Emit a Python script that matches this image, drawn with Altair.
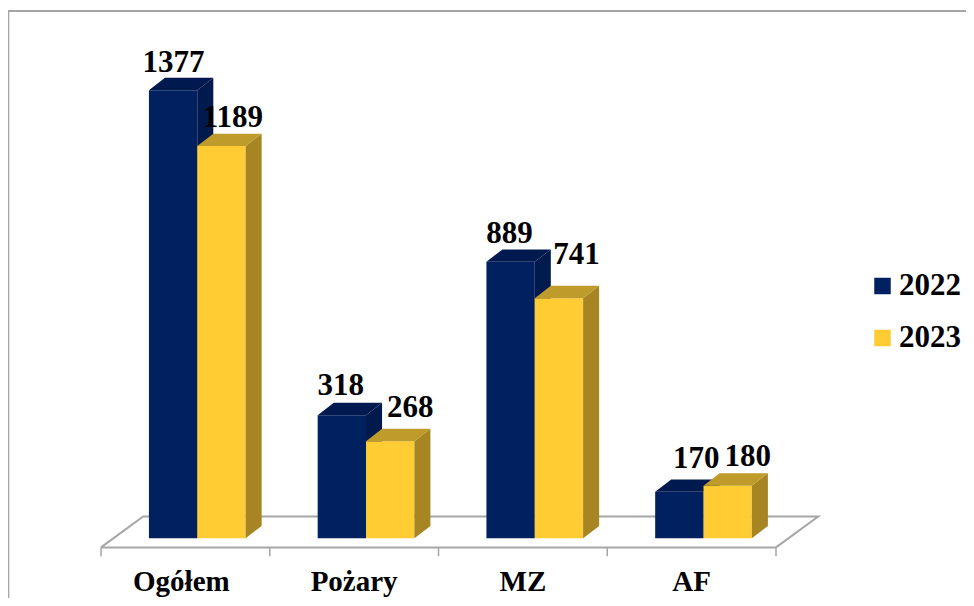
import altair as alt
import pandas as pd

# Data
categories = ["Ogółem", "Pożary", "MZ", "AF"]
series_names = ["2022", "2023"]
printed_2022 = ["1377", "318", "889", "170"]
printed_2023 = ["1189", "268", "741", "180"]
# The drawn bars are not strictly proportional to the printed numbers,
# so their heights are read off separately on the same scale.
drawn_2022 = [1379, 379, 851, 143]
drawn_2023 = [1207, 299, 739, 162]

# Geometry and style (chart units: one category = 1 on x, value units on y)
W, H = 958, 590
PX_X = 168.75      # px per category
PX_Y = 0.325       # px per value unit
X0_PX, Y0_PX = 93.0, 530.3   # position of the floor origin inside the plot
BAR_START = 0.284
BAR_W = 0.2865
DEPTH_X = 0.095
DEPTH_Y = 38
FLOOR_FRONT = -28
FLOOR_BACK = 67
FLOOR_DX = 0.25
TICK_END = -55
CAT_LABEL_Y = -162
FONT = "Liberation Serif"
GREY = "#A6A6A6"
FRONT = {"2022": "#002060", "2023": "#FFCC33"}
SIDE = {"2022": "#001A4D", "2023": "#A68522"}
TOP = {"2022": "#001A50", "2023": "#BF9B2B"}
# per-label nudges (dx, dy in px) from the centre of the bar's top edge
NUDGE = {
    "2022": [(0.5, -18), (-1, -20), (-1, -18.5), (17, -23.5)],
    "2023": [(11.5, -19), (20, -24), (17.5, -34), (20, -20)],
}
CAT_NUDGE = [-4, 0, 0, 0]

x_scale = alt.Scale(domain=[-X0_PX / PX_X, (W - X0_PX) / PX_X], range=[0, W], nice=False, zero=False)
y_scale = alt.Scale(domain=[-(H - Y0_PX) / PX_Y, Y0_PX / PX_Y], range=[H, 0], nice=False, zero=False)
X = alt.X("x:Q", scale=x_scale, axis=None)
Y = alt.Y("y:Q", scale=y_scale, axis=None)
color_scale = alt.Scale(domain=series_names, range=[FRONT[s] for s in series_names])


def line_layer(xs, ys, group="g"):
    d = pd.DataFrame({"x": xs, "y": ys, "o": range(len(xs))})
    return alt.Chart(d).mark_line(color=GREY, strokeWidth=2, clip=False).encode(X, Y, order="o:Q")


n = len(categories)
layers = []

# frame of the picture
layers.append(line_layer([-X0_PX / PX_X + 0.002, -X0_PX / PX_X + 0.002],
                         [-(H - Y0_PX) / PX_Y, (Y0_PX - 3) / PX_Y]))
layers.append(line_layer([-X0_PX / PX_X, (W - X0_PX) / PX_X],
                         [(Y0_PX - 3) / PX_Y, (Y0_PX - 3) / PX_Y]))

# floor
layers.append(line_layer([0, FLOOR_DX, n + FLOOR_DX, n],
                         [FLOOR_FRONT, FLOOR_BACK, FLOOR_BACK, FLOOR_FRONT]))
layers.append(line_layer([0, n], [FLOOR_FRONT, FLOOR_FRONT]))
ticks = pd.DataFrame({"x": list(range(n + 1)), "y": [FLOOR_FRONT] * (n + 1), "y2": [TICK_END] * (n + 1)})
layers.append(alt.Chart(ticks).mark_rule(color=GREY, strokeWidth=1.5).encode(X, Y, y2="y2:Q"))

# bars
for s_idx, (name, heights, printed) in enumerate(
    [("2022", drawn_2022, printed_2022), ("2023", drawn_2023, printed_2023)]
):
    lefts = [i + BAR_START + s_idx * BAR_W for i in range(n)]
    rights = [v + BAR_W for v in lefts]

    front = pd.DataFrame({"x": lefts, "x2": rights, "y": [0] * n, "y2": heights, "series": [name] * n})
    layers.append(
        alt.Chart(front).mark_bar().encode(
            X, alt.X2("x2:Q"), Y, alt.Y2("y2:Q"),
            color=alt.Color(
                "series:N", scale=color_scale,
                legend=alt.Legend(
                    orient="none", legendX=859, legendY=262.5, title=None,
                    symbolType="square", symbolSize=272, symbolStrokeWidth=0,
                    labelFont=FONT, labelFontSize=31, labelFontWeight="bold", labelColor="#000000",
                    labelLimit=200, rowPadding=20, labelOffset=1, padding=0,
                ),
            ),
        )
    )

    side_rows, top_rows = [], []
    for i in range(n):
        l, r, h = lefts[i], rights[i], heights[i]
        side_rows += [
            {"b": i, "x": r, "y": 0, "y2": h},
            {"b": i, "x": r + DEPTH_X, "y": DEPTH_Y, "y2": h + DEPTH_Y},
        ]
        top_rows += [
            {"b": i, "x": l, "y": h, "y2": h},
            {"b": i, "x": l + DEPTH_X, "y": h + DEPTH_Y, "y2": h},
            {"b": i, "x": r, "y": h + DEPTH_Y, "y2": h},
            {"b": i, "x": r + DEPTH_X, "y": h + DEPTH_Y, "y2": h + DEPTH_Y},
        ]
    layers.append(
        alt.Chart(pd.DataFrame(side_rows)).mark_area(color=SIDE[name]).encode(X, Y, alt.Y2("y2:Q"), detail="b:N")
    )
    layers.append(
        alt.Chart(pd.DataFrame(top_rows)).mark_area(color=TOP[name]).encode(X, Y, alt.Y2("y2:Q"), detail="b:N")
    )

# value labels
for s_idx, (name, heights, printed) in enumerate(
    [("2022", drawn_2022, printed_2022), ("2023", drawn_2023, printed_2023)]
):
    for i in range(n):
        d = pd.DataFrame({"x": [i + BAR_START + (s_idx + 0.5) * BAR_W], "y": [heights[i]], "t": [printed[i]]})
        dx, dy = NUDGE[name][i]
        layers.append(
            alt.Chart(d).mark_text(
                font=FONT, fontSize=31, fontWeight="bold", color="#000000",
                align="center", baseline="alphabetic", dx=dx, dy=dy,
            ).encode(X, Y, text="t:N")
        )

# category labels
for i in range(n):
    d = pd.DataFrame({"x": [i + 0.5], "y": [CAT_LABEL_Y], "t": [categories[i]]})
    layers.append(
        alt.Chart(d).mark_text(
            font=FONT, fontSize=29, fontWeight="bold", color="#000000",
            align="center", baseline="alphabetic", dx=CAT_NUDGE[i],
        ).encode(X, Y, text="t:N")
    )

chart = (
    alt.layer(*layers)
    .resolve_scale(color="shared")
    .properties(width=W, height=H, padding=0, autosize=alt.AutoSizeParams(type="none"), background="#FFFFFF")
    .configure_view(stroke=None)
)

chart.save("out.html", embed_options={"renderer": "svg", "actions": False})
